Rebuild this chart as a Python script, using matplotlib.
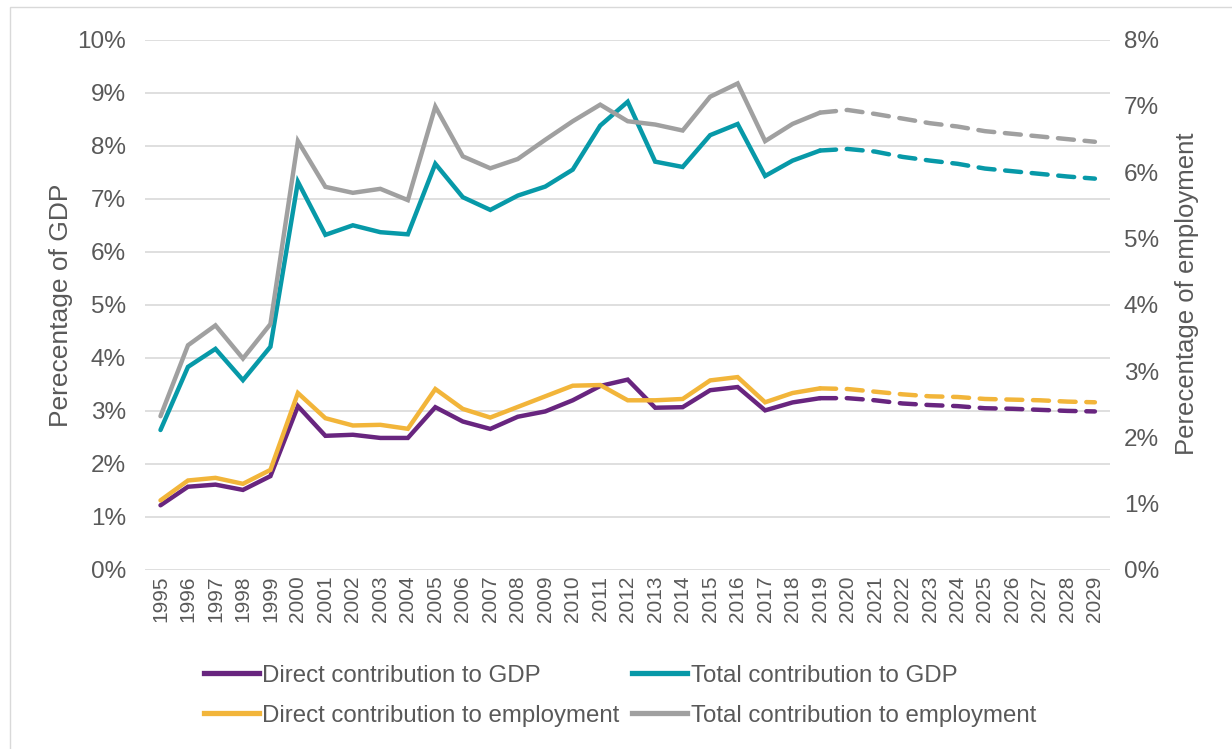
import numpy as np
import matplotlib.pyplot as plt
from matplotlib.patches import Rectangle
from matplotlib.lines import Line2D

plt.rcParams['font.family'] = ['Liberation Sans', 'DejaVu Sans']

years = list(range(1995, 2030))
last_actual = 2019

# % of GDP (left axis)
direct_gdp = [1.22, 1.57, 1.61, 1.51, 1.77, 3.09, 2.53, 2.55, 2.49, 2.49,
              3.07, 2.80, 2.66, 2.89, 2.99, 3.20, 3.47, 3.59, 3.06, 3.07,
              3.39, 3.45, 3.01, 3.16, 3.24, 3.24, 3.20, 3.14, 3.11, 3.09,
              3.05, 3.04, 3.02, 3.00, 2.99]
total_gdp = [2.64, 3.83, 4.17, 3.58, 4.21, 7.32, 6.32, 6.50, 6.37, 6.33,
             7.66, 7.03, 6.79, 7.06, 7.23, 7.55, 8.38, 8.83, 7.70, 7.60,
             8.20, 8.41, 7.43, 7.72, 7.91, 7.94, 7.89, 7.79, 7.72, 7.66,
             7.57, 7.52, 7.47, 7.42, 7.38]
# % of employment (right axis)
direct_emp = [1.05, 1.35, 1.39, 1.30, 1.51, 2.67, 2.29, 2.18, 2.19, 2.13,
              2.73, 2.43, 2.30, 2.46, 2.62, 2.78, 2.79, 2.56, 2.56, 2.58,
              2.86, 2.91, 2.53, 2.67, 2.74, 2.73, 2.69, 2.65, 2.62, 2.61,
              2.58, 2.57, 2.56, 2.54, 2.53]
total_emp = [2.32, 3.39, 3.69, 3.19, 3.71, 6.47, 5.78, 5.69, 5.75, 5.58,
             6.99, 6.24, 6.06, 6.20, 6.49, 6.77, 7.02, 6.77, 6.72, 6.63,
             7.14, 7.34, 6.47, 6.73, 6.90, 6.94, 6.88, 6.81, 6.74, 6.69,
             6.62, 6.58, 6.54, 6.50, 6.46]

PURPLE = '#68257f'
TEAL = '#0799a8'
ORANGE = '#f2b53a'
GRAY = '#a0a0a0'
TXT = '#595959'


def draw(ax, vals, color):
    i = years.index(last_actual)
    ax.plot(years[:i + 1], vals[:i + 1], color=color, lw=3.2,
            solid_joinstyle='miter', solid_capstyle='round')
    ax.plot(years[i:], vals[i:], color=color, lw=3.2, ls=(0, (3.6, 2.4)),
            dash_capstyle='round')


fig = plt.figure(figsize=(12.32, 7.49), dpi=100)
fig.patches.append(Rectangle((0.008, -0.01), 1.2, 1.0, transform=fig.transFigure,
                             fill=False, ec='#d9d9d9', lw=1))
ax = fig.add_axes([0.118, 0.239, 0.783, 0.708])
ax2 = ax.twinx()

draw(ax, total_gdp, TEAL)
draw(ax, direct_gdp, PURPLE)
draw(ax2, total_emp, GRAY)
draw(ax2, direct_emp, ORANGE)
ax.patch.set_visible(False)
ax2.set_zorder(ax.get_zorder() + 1)

ax.set_ylim(0, 10)
ax2.set_ylim(0, 8)
ax.set_xlim(1994.45, 2029.55)
ax.set_yticks(range(0, 11))
ax.set_yticklabels([f'{v}%' for v in range(0, 11)])
ax2.set_yticks(range(0, 9))
ax2.set_yticklabels([f'{v}%' for v in range(0, 9)])
ax.set_xticks(years)
ax.set_xticklabels([str(y) for y in years], rotation=90)

ax.grid(axis='y', color='#d9d9d9', lw=1.2)
ax.set_axisbelow(True)
for a in (ax, ax2):
    for s in a.spines.values():
        s.set_visible(False)
    a.tick_params(length=0, colors=TXT)
ax.tick_params(axis='y', labelsize=17.5, pad=14)
ax2.tick_params(axis='y', labelsize=17.5, pad=10)
ax.tick_params(axis='x', labelsize=15, pad=4)

ax.set_ylabel('Perecentage of GDP', fontsize=19, color=TXT)
ax2.set_ylabel('Perecentage of employment', fontsize=18.5, color=TXT)
ax.yaxis.set_label_coords(-0.075, 0.5)
ax2.yaxis.set_label_coords(1.067, 0.52)

handles = [Line2D([], [], color=PURPLE, lw=3.8),
           Line2D([], [], color=ORANGE, lw=3.8),
           Line2D([], [], color=TEAL, lw=3.8),
           Line2D([], [], color=GRAY, lw=3.8)]
labels = ['Direct contribution to GDP', 'Direct contribution to employment',
          'Total contribution to GDP', 'Total contribution to employment']
leg = fig.legend(handles, labels, ncol=2, loc='center', bbox_to_anchor=(0.503, 0.071),
                 frameon=False, fontsize=17.3, handlelength=2.3, handletextpad=0.15,
                 columnspacing=0.5, labelspacing=0.75)
for t in leg.get_texts():
    t.set_color(TXT)

fig.savefig('out.png', dpi=100)
